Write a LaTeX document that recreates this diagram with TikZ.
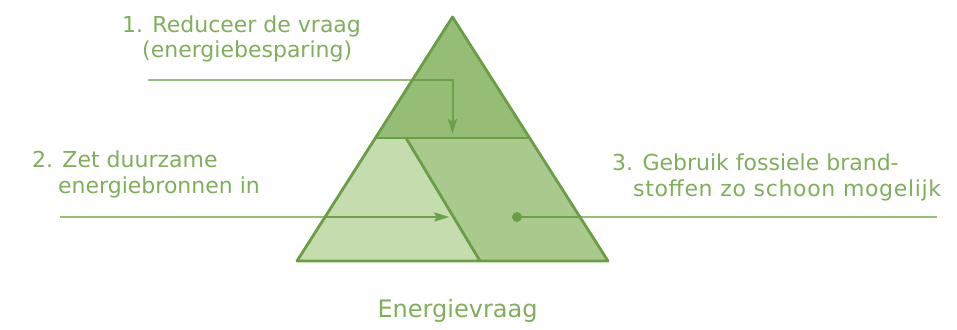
\documentclass[tikz,border=0pt]{standalone}
\usepackage{fontspec}
\setmainfont{DejaVu Sans}
\usetikzlibrary{arrows.meta}
\definecolor{edgegreen}{HTML}{6A9E45}
\definecolor{topfill}{HTML}{96BD76}
\definecolor{leftfill}{HTML}{C5DCAE}
\definecolor{rightfill}{HTML}{A9C98D}
\definecolor{txtgreen}{HTML}{7FAE5C}
\definecolor{linegreen}{HTML}{95BE76}
\definecolor{innerline}{HTML}{6E9F4C}
\tikzset{
  lbl/.style={anchor=base west, inner sep=0pt, text=txtgreen, font=\fontsize{22}{26}\selectfont},
  ttl/.style={anchor=base, inner sep=0pt, text=txtgreen, font=\fontsize{24}{28}\selectfont},
  part/.style={draw=edgegreen, line width=2.8pt, line join=round},
  conn/.style={draw=linegreen, line width=1.6pt, -{Stealth[length=15pt,width=9pt,inset=3pt]}},
  conninner/.style={draw=innerline, line width=2pt, -{Stealth[length=15pt,width=9pt,inset=3pt]}},
  plain/.style={draw=linegreen, line width=1.6pt},
  plaininner/.style={draw=innerline, line width=2pt},
  dotnode/.style={circle, fill=edgegreen, inner sep=0pt, minimum size=10pt}
}
\begin{document}
\begin{tikzpicture}[x=1pt,y=-1pt]
\useasboundingbox (0,0) rectangle (957,329);
% triangle points
\coordinate (A) at (452.5,17);
\coordinate (BL) at (297,261);
\coordinate (BR) at (608,261);
\coordinate (DL) at (375.4,138);
\coordinate (DR) at (529.6,138);
\coordinate (IT) at (406,138);
\coordinate (IB) at (480,261);
% fills
\fill[topfill] (A) -- (DL) -- (DR) -- cycle;
\fill[leftfill] (DL) -- (IT) -- (IB) -- (BL) -- cycle;
\fill[rightfill] (IT) -- (DR) -- (BR) -- (IB) -- cycle;
% connectors
\coordinate (s1) at (148,80);
\coordinate (t1) at (452.5,134);
\coordinate (s2) at (60,217);
\coordinate (t2) at (449,217);
\coordinate (d3c) at (517,217);
\coordinate (e3) at (937,217);
\draw[conn] (s1) -| (t1);
\draw[conn] (s2) -- (t2);
\draw[plain] (d3c) -- (e3);
\begin{scope}
  \clip (A) -- (BR) -- (BL) -- cycle;
  \draw[conninner] (s1) -| (t1);
  \draw[conninner] (s2) -- (t2);
  \draw[plaininner] (d3c) -- (e3);
\end{scope}
\node[dotnode] (d3) at (d3c) {};
% outlines
\draw[part] (A) -- (BR) -- (BL) -- cycle;
\draw[part] (DL) -- (DR);
\draw[part] (IT) -- (IB);
% labels
\node[lbl] (l1a) at (122,33) {1. Reduceer de vraag};
\node[lbl] (l1b) at (142,57) {(energiebesparing)};
\node[lbl] (l2a) at (32,167) {2. Zet duurzame};
\node[lbl] (l2b) at (58,193) {energiebronnen in};
\node[lbl] (l3a) at (612,170) {3. Gebruik fossiele brand-};
\node[lbl] (l3b) at (633,196) {\addfontfeatures{LetterSpace=3}stoffen zo schoon mogelijk};
\node[ttl] (ttl) at (457.5,317) {Energievraag};
\end{tikzpicture}
\end{document}
